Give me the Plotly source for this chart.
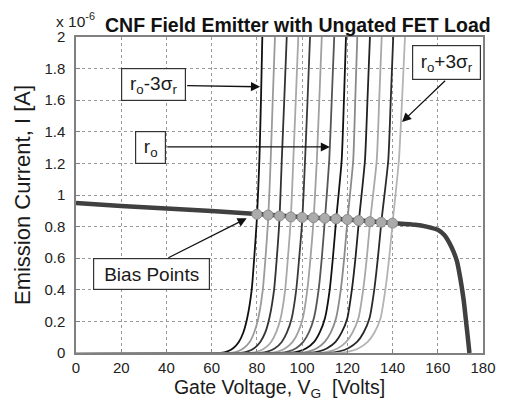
import plotly.graph_objects as go

# ---------------- data (current in units of 1e-6 A) ----------------
CURVE_I = [0, 0, 0.01, 0.03, 0.07, 0.13, 0.22, 0.4, 0.6, 0.85, 1.22, 1.6, 2.0]

V_80 = [0, 64, 67, 69.5, 72, 74, 75.7, 77.7, 78.8, 80, 81.1, 81.8, 82.4]
V_85 = [0, 68.3, 71.5, 74.1, 76.8, 78.8, 80.6, 82.6, 83.8, 85, 86.1, 87.0, 88.0]
V_90 = [0, 72.7, 76, 78.8, 81.5, 83.7, 85.5, 87.6, 88.8, 90, 91.0, 92.1, 93.2]
V_95 = [0, 77, 80.5, 83.4, 86.3, 88.5, 90.5, 92.5, 93.7, 95, 96.1, 97.2, 98.3]
V_100 = [0, 81.3, 85, 88, 91, 93.3, 95.4, 97.4, 98.7, 100.1, 101.3, 102.4, 103.5]
V_105 = [0, 85.7, 89.5, 92.6, 95.8, 98.2, 100.3, 102.3, 103.7, 105.1, 106.5, 107.6, 108.7]
V_110 = [0, 90, 94, 97.3, 100.5, 103, 105.2, 107.3, 108.7, 110.1, 112.0, 113.1, 114.2]
V_115 = [0, 94.3, 98.5, 101.9, 105.3, 107.8, 110.1, 112.2, 113.6, 115.1, 117.5, 118.5, 119.4]
V_120 = [0, 98.7, 103, 106.5, 110, 112.7, 115, 117.1, 118.6, 120.1, 122.6, 123.5, 124.4]
V_125 = [0, 103, 107.5, 111.1, 114.8, 117.5, 120, 122, 123.6, 125.2, 127.8, 128.9, 130]
V_130 = [0, 107.3, 112, 115.8, 119.5, 122.3, 124.9, 127, 128.6, 130.2, 133, 134.1, 135.2]
V_135 = [0, 111.7, 116.5, 120.4, 124.3, 127.2, 129.8, 131.9, 133.5, 135.2, 138.1, 139.2, 140.3]
V_140 = [0, 116, 121, 125, 129, 132, 134.7, 136.8, 138.5, 140.2, 142.8, 144.2, 145.5]

LOAD_V = [0, 20, 40, 60, 80, 100, 120, 140, 150, 155, 160, 163, 165, 167, 168.5, 170, 171.5, 172.5, 173.5, 174]
LOAD_I = [0.95, 0.93, 0.915, 0.898, 0.88, 0.86, 0.845, 0.823, 0.812, 0.80, 0.78, 0.745, 0.70, 0.64, 0.58, 0.47, 0.33, 0.20, 0.07, 0]

BIAS_V = [80, 85, 90, 95, 100, 105, 110, 115, 120, 125, 130, 135, 140]
BIAS_I = [0.878, 0.873, 0.867, 0.861, 0.858, 0.856, 0.853, 0.849, 0.845, 0.838, 0.831, 0.827, 0.822]

X_TICKS = [0, 20, 40, 60, 80, 100, 120, 140, 160, 180]
Y_TICKS = [0, 0.2, 0.4, 0.6, 0.8, 1.0, 1.2, 1.4, 1.6, 1.8, 2.0]
Y_TICK_TEXT = ["0", "0.2", "0.4", "0.6", "0.8", "1", "1.2", "1.4", "1.6", "1.8", "2"]

CURVES = [V_80, V_85, V_90, V_95, V_100, V_105, V_110, V_115, V_120, V_125, V_130, V_135, V_140]

# ---------------- styles ----------------
CURVE_COLORS = ['#111111', '#9a9a9a', '#333333', '#a8a8a8', '#3a3a3a', '#a0a0a0', '#555555',
                '#111111', '#8a8a8a', '#222222', '#a8a8a8', '#2a2a2a', '#b4b4b4']
FONT = "Liberation Sans, Arial, sans-serif"

fig = go.Figure()
for v, c in zip(CURVES, CURVE_COLORS):
    fig.add_trace(go.Scatter(x=v, y=CURVE_I, mode='lines',
                             line=dict(color=c, width=1.8, shape='spline', smoothing=0.6),
                             hoverinfo='skip'))

fig.add_trace(go.Scatter(x=LOAD_V, y=LOAD_I, mode='lines',
                         line=dict(color='#404040', width=4.5, shape='spline', smoothing=0.5)))
fig.add_trace(go.Scatter(x=BIAS_V, y=BIAS_I, mode='markers',
                         marker=dict(size=10, color='#ababab', line=dict(color='#8c8c8c', width=1))))

W, H = 507, 413
L, R, T, B = 76, 24, 37, 60
PW, PH = W - L - R, H - T - B


def px_x(p):
    return (p - L) / PW


def px_y(p):
    return (H - B - p) / PH


box = dict(bordercolor='#333333', borderwidth=1.2, bgcolor='white', borderpad=0,
           font=dict(family=FONT, size=19, color='#1a1a1a'), showarrow=False)

annots = [
    dict(text='r<sub>o</sub>-3σ<sub>r</sub>', x=34.2, y=1.698, width=63, height=31, **box),
    dict(text='r<sub>o</sub>', x=32.9, y=1.303, width=29, height=31, **box),
    dict(text='r<sub>o</sub>+3σ<sub>r</sub>', x=163.7, y=1.841, width=67, height=33, **box),
    dict(text='Bias Points', x=33.5, y=0.499, width=115, height=30, **box),
]
arrows = [
    ((81.4, 1.685), (48.5, 1.693)),
    ((112.3, 1.304), (39.7, 1.304)),
    ((144.2, 1.462), (163.9, 1.732)),
    ((75.5, 0.853), (40.2, 0.598)),
]
for (hx, hy), (tx, ty) in arrows:
    annots.append(dict(text='', x=hx, y=hy, ax=tx, ay=ty, axref='x', ayref='y',
                       showarrow=True, arrowhead=2, arrowsize=1.4, arrowwidth=1.3,
                       arrowcolor='#111111'))

annots.append(dict(text='<b>CNF Field Emitter with Ungated FET Load</b>', xref='paper', yref='paper',
                   x=px_x(297.5), y=px_y(25), xanchor='center', yanchor='middle', showarrow=False,
                   font=dict(family=FONT, size=19.5, color='#111111')))
annots.append(dict(text='x 10<sup>-6</sup>', xref='paper', yref='paper',
                   x=px_x(54), y=px_y(20), xanchor='left', yanchor='middle', showarrow=False,
                   font=dict(family=FONT, size=15.5, color='#222222')))

axis_common = dict(showline=True, linecolor='#808080', linewidth=1.5, mirror=True,
                   showgrid=True, gridcolor='#9a9a9a', griddash='dot', gridwidth=1,
                   zeroline=False, ticks='inside', ticklen=4, tickcolor='#808080',
                   automargin=False,
                   tickfont=dict(family=FONT, size=15, color='#222222'))

fig.update_layout(
    width=W, height=H,
    margin=dict(l=L, r=R, t=T, b=B),
    paper_bgcolor='white', plot_bgcolor='white',
    showlegend=False,
    annotations=annots,
    xaxis=dict(range=[0, 180], tickvals=X_TICKS, ticklabelstandoff=0,
               title=dict(text='Gate Voltage, V<sub>G</sub>  [Volts]', standoff=6,
                          font=dict(family=FONT, size=19.5, color='#1a1a1a')),
               **axis_common),
    yaxis=dict(range=[0, 2], tickvals=Y_TICKS, ticktext=Y_TICK_TEXT, ticklabelstandoff=6,
               title=dict(text='Emission Current, I [A]', standoff=8,
                          font=dict(family=FONT, size=22, color='#1a1a1a')),
               **axis_common),
)

fig.write_html("out.html", config={'displayModeBar': False},
               post_script="document.body.style.margin='0';document.body.style.padding='0';")
